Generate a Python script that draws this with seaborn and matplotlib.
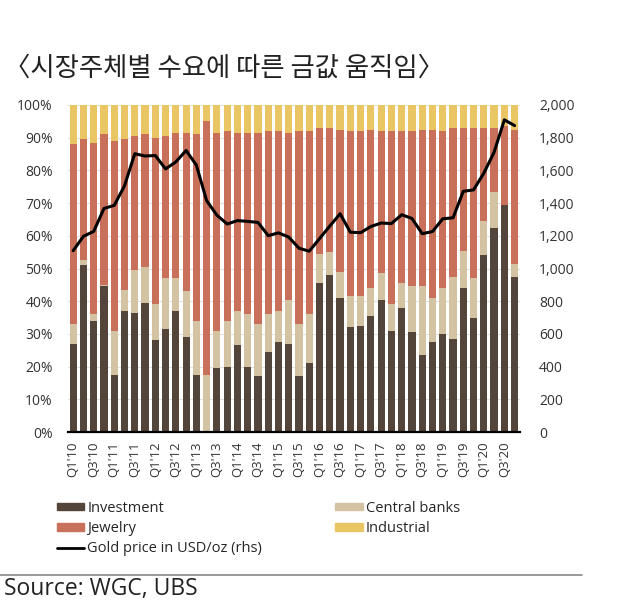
import matplotlib
matplotlib.use("Agg")
import matplotlib.pyplot as plt
from matplotlib.lines import Line2D
from matplotlib.patches import Patch
from matplotlib.ticker import FuncFormatter, MultipleLocator
import numpy as np
import pandas as pd
import seaborn as sns


quarters = [f"Q{q}'{y:02d}" for y in range(10, 21) for q in range(1, 5)]

# share of demand by sector, %
investment = [
    27, 51, 34, 44.5, 17.5, 37, 36.5, 39.5, 28, 31.5, 37,
    29, 17.5, 0, 19.5, 20, 26.5, 20, 17, 24.5, 27.5, 27,
    17, 21, 45.5, 48, 41, 32, 32.5, 35.5, 40.5, 31, 38,
    30.5, 23.5, 27.5, 30, 28.5, 44, 35, 54, 62.5, 69.5, 47.5,
]
central_banks = [
    6, 1.5, 2, 0.5, 13.5, 6.5, 13, 11, 11, 15.5, 10,
    14, 16.5, 17.5, 11.5, 14, 10.5, 16, 16, 11.5, 9.5, 13.5,
    16, 15, 9, 7, 8, 9.5, 9, 8.5, 8, 8, 7.5,
    14, 21, 13.5, 14, 19, 11.5, 12, 10.5, 11, 0, 4,
]
jewelry = [
    55, 37, 52.5, 46, 58, 46, 41, 40.5, 51, 43.5, 44.5,
    48.5, 57, 77.5, 60.5, 58, 54.5, 55.5, 58.5, 56, 55, 51,
    59, 56, 38.5, 38, 43.5, 50.5, 50.5, 48.5, 43.5, 53, 46.5,
    47.5, 48, 51.5, 48, 45.5, 37.5, 46, 28.5, 19.5, 24, 41,
]
industrial = [
    12, 10.5, 11.5, 9, 11, 10.5, 9.5, 9, 10, 9.5, 8.5,
    8.5, 9, 5, 8.5, 8, 8.5, 8.5, 8.5, 8, 8, 8.5,
    8, 8, 7, 7, 7.5, 8, 8, 7.5, 8, 8, 8,
    8, 7.5, 7.5, 8, 7, 7, 7, 7, 7, 6.5, 7.5,
]
gold_price = [
    1109, 1197, 1227, 1367, 1386, 1506, 1702, 1688, 1691, 1609, 1652,
    1722, 1632, 1415, 1326, 1272, 1293, 1288, 1282, 1201, 1218, 1192,
    1124, 1106, 1183, 1260, 1335, 1222, 1219, 1257, 1278, 1275, 1329,
    1306, 1213, 1226, 1304, 1310, 1472, 1481, 1583, 1711, 1909, 1874,
]

COLORS = {
    "Investment": "#54453a",
    "Central banks": "#d3c3a2",
    "Jewelry": "#c8705a",
    "Industrial": "#eac564",
}


def main():
    sns.set_theme(style="white")
    plt.rcParams["font.family"] = ["Open Sans", "Noto Sans CJK KR", "DejaVu Sans"]

    df = pd.DataFrame(
        {
            "quarter": quarters,
            "Investment": investment,
            "Central banks": central_banks,
            "Jewelry": jewelry,
            "Industrial": industrial,
            "price": gold_price,
        }
    )
    # cumulative tops, drawn back to front so each layer covers the one above
    df["top_inv"] = df["Investment"]
    df["top_cb"] = df["top_inv"] + df["Central banks"]
    df["top_jew"] = df["top_cb"] + df["Jewelry"]
    df["top_ind"] = df["top_jew"] + df["Industrial"]

    fig = plt.figure(figsize=(6.3, 6.14), dpi=100)
    ax = fig.add_axes([0.108, 0.2964, 0.717, 0.5326])

    for col, name in [
        ("top_ind", "Industrial"),
        ("top_jew", "Jewelry"),
        ("top_cb", "Central banks"),
        ("top_inv", "Investment"),
    ]:
        sns.barplot(
            data=df,
            x="quarter",
            y=col,
            order=quarters,
            color=COLORS[name],
            width=0.7,
            errorbar=None,
            saturation=1,
            linewidth=0,
            ax=ax,
        )

    ax.set_ylim(0, 100)
    ax.set_xlim(-0.5, len(quarters) - 0.5)
    ax.yaxis.set_major_locator(MultipleLocator(10))
    ax.yaxis.set_major_formatter(FuncFormatter(lambda v, _: f"{v:.0f}%"))
    ax.grid(axis="y", color="#e2e2e2", linewidth=0.8)
    ax.set_axisbelow(True)
    ax.set_xlabel("")
    ax.set_ylabel("")

    ax.set_xticks(range(len(quarters)))
    ax.set_xticklabels(
        [q if i % 2 == 0 else "" for i, q in enumerate(quarters)],
        rotation=90,
    )
    ax.tick_params(axis="x", length=0, pad=7, labelsize=9.5, colors="#333333")
    ax.tick_params(axis="y", length=0, pad=11, labelsize=10, colors="#333333")

    for side in ["top", "right", "left"]:
        ax.spines[side].set_visible(False)
    ax.spines["bottom"].set_color("black")
    ax.spines["bottom"].set_linewidth(1.6)

    ax2 = ax.twinx()
    sns.lineplot(
        x=np.arange(len(quarters)),
        y=df["price"],
        color="black",
        linewidth=2.2,
        ax=ax2,
    )
    ax2.set_ylim(0, 2000)
    ax2.yaxis.set_major_locator(MultipleLocator(200))
    ax2.yaxis.set_major_formatter(FuncFormatter(lambda v, _: f"{v:,.0f}"))
    ax2.tick_params(axis="y", length=0, pad=14, labelsize=10, colors="#333333")
    ax2.set_ylabel("")
    for side in ["top", "right", "left", "bottom"]:
        ax2.spines[side].set_visible(False)

    fig.text(
        0.006,
        0.889,
        "〈시장주체별 수요에 따른 금값 움직임〉",
        fontsize=19,
        family=["Noto Sans CJK KR", "DejaVu Sans"],
        color="#222222",
        va="center",
    )

    left_handles = [
        Patch(color=COLORS["Investment"], label="Investment"),
        Patch(color=COLORS["Jewelry"], label="Jewelry"),
        Line2D([], [], color="black", linewidth=2, label="Gold price in USD/oz (rhs)"),
    ]
    right_handles = [
        Patch(color=COLORS["Central banks"], label="Central banks"),
        Patch(color=COLORS["Industrial"], label="Industrial"),
    ]
    legend_kws = dict(
        frameon=False,
        fontsize=10.5,
        handlelength=1.9,
        handleheight=0.4,
        handletextpad=0.2,
        labelspacing=0.35,
        borderaxespad=0,
        borderpad=0,
        loc="upper left",
    )
    fig.legend(handles=left_handles, bbox_to_anchor=(0.09, 0.184), **legend_kws)
    fig.legend(handles=right_handles, bbox_to_anchor=(0.532, 0.184), **legend_kws)

    fig.add_artist(
        Line2D([0.0, 0.924], [0.064, 0.064], color="#888888", linewidth=1.2)
    )
    fig.text(0.006, 0.041, "Source: WGC, UBS", fontsize=16.5, color="#222222", va="center")

    fig.savefig("out.png", dpi=100)
    plt.close(fig)


if __name__ == "__main__":
    main()
